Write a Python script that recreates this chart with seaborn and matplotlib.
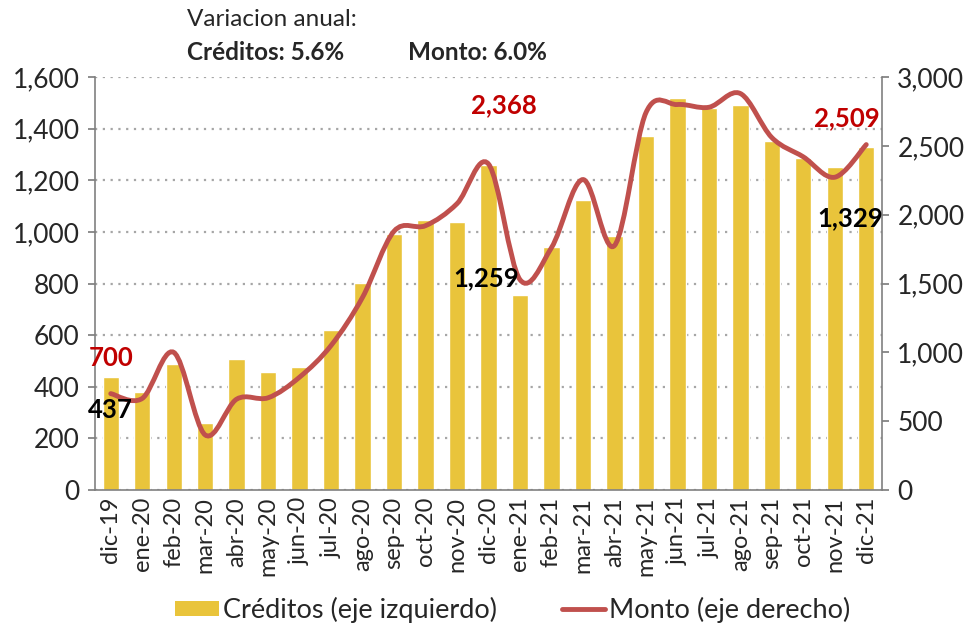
import matplotlib
matplotlib.use("Agg")
import matplotlib.pyplot as plt
import seaborn as sns
import numpy as np
import pandas as pd
from matplotlib.path import Path
from matplotlib.patches import PathPatch, Patch
from matplotlib.lines import Line2D
from matplotlib.ticker import FuncFormatter

meses = ["dic-19", "ene-20", "feb-20", "mar-20", "abr-20", "may-20", "jun-20",
         "jul-20", "ago-20", "sep-20", "oct-20", "nov-20", "dic-20", "ene-21",
         "feb-21", "mar-21", "abr-21", "may-21", "jun-21", "jul-21", "ago-21",
         "sep-21", "oct-21", "nov-21", "dic-21"]
creditos = [437, 380, 490, 258, 508, 457, 478, 620, 802, 990, 1045, 1040, 1259,
            757, 942, 1122, 985, 1372, 1517, 1480, 1490, 1352, 1287, 1250, 1329]
monto = [700, 665, 1000, 400, 660, 670, 820, 1050, 1400, 1880, 1920, 2080, 2368,
         1528, 1760, 2255, 1775, 2740, 2800, 2780, 2880, 2560, 2420, 2272, 2509]

BAR = "#E9C43B"
LINE = "#C0504D"

sns.set_theme(style="white")
plt.rcParams["font.family"] = ["Lato", "DejaVu Sans"]

df = pd.DataFrame({"mes": meses, "creditos": creditos, "monto": monto})

fig = plt.figure(figsize=(9.64, 6.31), dpi=100)
ax = fig.add_axes([95 / 964, 1 - 490 / 631, 787 / 964, 413 / 631])
sns.barplot(data=df, x="mes", y="creditos", color=BAR, width=0.52,
            saturation=1, ax=ax, zorder=2)
ax.set_xlim(-0.5, len(meses) - 0.5)
ax.set_ylim(0, 1600)
ax.set_yticks(range(0, 1601, 200))
ax.yaxis.set_major_formatter(FuncFormatter(lambda v, p: f"{int(v):,}"))
ax.set_xlabel("")
ax.set_ylabel("")
ax.grid(axis="y", color="#A6A6A6", linestyle=(0, (1, 2.5)), linewidth=1.6, zorder=0)
ax.set_axisbelow(True)
ax.tick_params(axis="y", labelsize=19, length=5, color="#808080", left=True, pad=6)
ax.tick_params(axis="x", labelsize=17, rotation=90, length=0, pad=5)
for s in ["top", "right"]:
    ax.spines[s].set_visible(False)
for s in ["left", "bottom"]:
    ax.spines[s].set_color("#808080")
    ax.spines[s].set_linewidth(1.2)

ax2 = ax.twinx()
ax2.set_ylim(0, 3000)
ax2.set_yticks(range(0, 3001, 500))
ax2.yaxis.set_major_formatter(FuncFormatter(lambda v, p: f"{int(v):,}"))
ax2.tick_params(axis="y", labelsize=19, length=5, color="#808080", right=True, pad=6)
for s in ["top", "left", "bottom"]:
    ax2.spines[s].set_visible(False)
ax2.spines["right"].set_color("#808080")
ax2.spines["right"].set_linewidth(1.2)

# smooth line (Excel style) through the data points
xs = np.arange(len(monto), dtype=float)
ys = np.array(monto, dtype=float)
verts = [(xs[0], ys[0])]
codes = [Path.MOVETO]
n = len(xs)
for i in range(n - 1):
    p0 = (xs[max(i - 1, 0)], ys[max(i - 1, 0)])
    p1 = (xs[i], ys[i])
    p2 = (xs[i + 1], ys[i + 1])
    p3 = (xs[min(i + 2, n - 1)], ys[min(i + 2, n - 1)])
    c1 = (p1[0] + (p2[0] - p0[0]) / 6, p1[1] + (p2[1] - p0[1]) / 6)
    c2 = (p2[0] - (p3[0] - p1[0]) / 6, p2[1] - (p3[1] - p1[1]) / 6)
    verts += [c1, c2, p2]
    codes += [Path.CURVE4] * 3
ax2.add_patch(PathPatch(Path(verts, codes), facecolor="none", edgecolor=LINE,
                        linewidth=3.5, capstyle="round", zorder=3))

# annotations (drawn on top of the line)
lab = dict(fontsize=18.5, fontweight="bold", ha="center", va="center", zorder=6)
ax2.text(0, 958, "700", color="#C00000", **lab)
ax2.text(0, 310, "437", color="black", transform=ax.transData, **lab)
ax2.text(12.5, 2796, "2,368", color="#C00000", **lab)
ax2.text(11.93, 822, "1,259", color="black", transform=ax.transData, **lab)
ax2.text(23.4, 2701, "2,509", color="#C00000", **lab)
ax2.text(23.5, 1054, "1,329", color="black", transform=ax.transData, **lab)

fig.text(187 / 964, 1 - 20 / 631, "Variacion anual:", fontsize=17.5, va="center", ha="left")
fig.text(187 / 964, 1 - 52 / 631, "Créditos: 5.6%", fontsize=17.5, fontweight="bold", va="center", ha="left")
fig.text(408 / 964, 1 - 52 / 631, "Monto: 6.0%", fontsize=17.5, fontweight="bold", va="center", ha="left")

handles = [Patch(facecolor=BAR, edgecolor="none"),
           Line2D([0], [0], color=LINE, linewidth=3.5)]
fig.legend(handles, ["Créditos (eje izquierdo)", "Monto (eje derecho)"],
           loc="center", bbox_to_anchor=(513 / 964, 1 - 610 / 631), ncol=2,
           frameon=False, fontsize=19.5, handlelength=1.6, handleheight=0.5,
           handletextpad=0.15, columnspacing=2.4)

fig.savefig("out.png", dpi=100)
